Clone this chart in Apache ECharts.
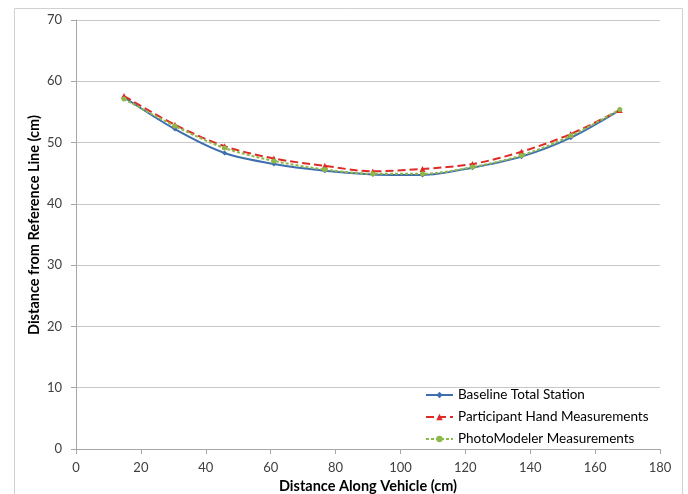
<!DOCTYPE html>
<html>
<head>
<meta charset="utf-8">
<script src="https://cdn.jsdelivr.net/npm/echarts@6/dist/echarts.min.js"></script>
<style>
html,body{margin:0;padding:0;background:#fff;}
#chart{width:688px;height:494px;}
</style>
</head>
<body>
<div id="chart"></div>
<script>
const xValues = [14.8, 30.5, 45.8, 61.0, 76.7, 91.5, 106.8, 122.2, 137.3, 152.5, 167.6];
const baseline = [57.4, 52.2, 48.3, 46.5, 45.4, 44.8, 44.7, 45.9, 47.7, 50.8, 55.3];
const participant = [57.6, 52.9, 49.4, 47.4, 46.2, 45.3, 45.7, 46.5, 48.5, 51.4, 55.3];
const photoModeler = [57.1, 52.7, 49.1, 47.0, 45.6, 44.9, 44.9, 46.0, 47.9, 51.1, 55.4];
const seriesNames = ['Baseline Total Station', 'Participant Hand Measurements', 'PhotoModeler Measurements'];
const xTitle = 'Distance Along Vehicle (cm)';
const yTitle = 'Distance from Reference Line (cm)';

const pairs = ys => xValues.map((x, i) => [x, ys[i]]);
const font = 'Lato, "Open Sans", sans-serif';

const chart = echarts.init(document.getElementById('chart'));
chart.setOption({
  animation: false,
  backgroundColor: '#fff',
  textStyle: { fontFamily: font },
  graphic: [
    {
      type: 'rect', shape: { x: 14.5, y: 8.5, width: 668, height: 500 },
      style: { fill: 'none', stroke: '#d0d0d0', lineWidth: 1 }, silent: true, z: -1
    },
    {
      type: 'text', x: 34, y: 225, rotation: Math.PI / 2,
      style: {
        text: yTitle, fontFamily: font, fontSize: 14.5, fontWeight: 'bold', fill: '#000',
        align: 'center', verticalAlign: 'middle'
      }, silent: true
    }
  ],
  grid: { left: 76, right: 28, top: 20, bottom: 45, containLabel: false, outerBoundsMode: 'none' },
  legend: {
    orient: 'vertical',
    left: 420, top: 383,
    itemWidth: 27, itemHeight: 8, itemGap: 8,
    textStyle: { fontFamily: font, fontSize: 13.5, color: '#000' },
    data: seriesNames
  },
  xAxis: {
    type: 'value', min: 0, max: 180, interval: 20,
    name: xTitle, nameLocation: 'middle', nameGap: 30,
    nameTextStyle: { fontFamily: font, fontSize: 14.5, fontWeight: 'bold', color: '#000' },
    axisLine: { show: true, lineStyle: { color: '#a6a6a6' } },
    axisTick: { show: true, inside: false, length: 5, lineStyle: { color: '#a6a6a6' } },
    axisLabel: { fontFamily: font, fontSize: 13, color: '#404040', margin: 12 },
    splitLine: { show: false }
  },
  yAxis: {
    type: 'value', min: 0, max: 70, interval: 10,
    axisLine: { show: true, lineStyle: { color: '#a6a6a6' } },
    axisTick: { show: true, inside: false, length: 5, lineStyle: { color: '#a6a6a6' } },
    axisLabel: { fontFamily: font, fontSize: 13, color: '#404040', margin: 14 },
    splitLine: { show: true, lineStyle: { color: '#c8c8c8', width: 1 } }
  },
  series: [
    {
      name: seriesNames[0], type: 'line', data: pairs(baseline), smooth: 0.3,
      symbol: 'diamond', symbolSize: 5,
      lineStyle: { color: '#3f6eaf', width: 2 },
      itemStyle: { color: '#3f6eaf' }, z: 3
    },
    {
      name: seriesNames[1], type: 'line', data: pairs(participant), smooth: 0.3,
      symbol: 'triangle', symbolSize: 6,
      lineStyle: { color: '#de2b26', width: 2, type: [8, 4] },
      itemStyle: { color: '#de2b26' }, z: 4
    },
    {
      name: seriesNames[2], type: 'line', data: pairs(photoModeler), smooth: 0.3,
      symbol: 'circle', symbolSize: 5,
      lineStyle: { color: '#8db84a', width: 2, type: [3, 2] },
      itemStyle: { color: '#8db84a' }, z: 5
    }
  ]
});
</script>
</body>
</html>
